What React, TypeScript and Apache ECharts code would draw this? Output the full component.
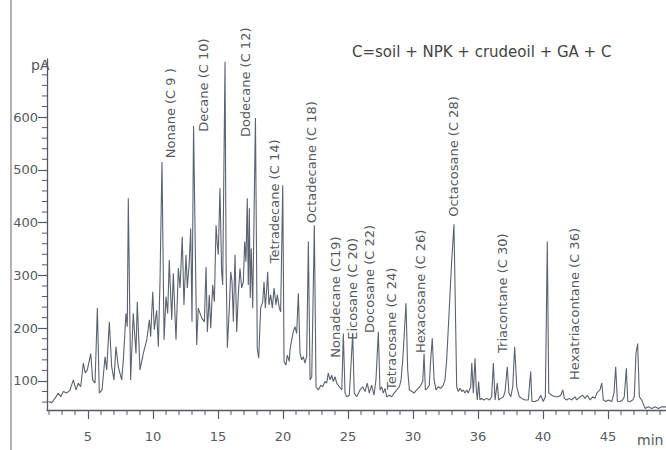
import React, { useEffect, useRef } from "react";
import * as echarts from "echarts";

// Retention time (min) and detector signal (pA)
const retentionTimes = [
  1.95, 2.21, 2.46, 2.72, 2.9, 3.1, 3.36, 3.62, 3.87, 4.08, 4.25, 4.44, 4.64, 4.79, 4.95,
  5.21, 5.36, 5.54, 5.72, 5.87, 6.08, 6.31, 6.44, 6.64, 6.82, 7.0, 7.15, 7.33, 7.59, 7.72,
  7.92, 8.02, 8.1, 8.28, 8.48, 8.69, 8.79, 9.0, 9.25, 9.52, 9.72, 9.82, 9.98, 10.1, 10.28,
  10.41, 10.54, 10.69, 10.85, 11.0, 11.13, 11.25, 11.44, 11.56, 11.77, 11.95, 12.08, 12.25,
  12.38, 12.54, 12.64, 12.79, 12.9, 13.0, 13.12, 13.36, 13.48, 13.75, 13.95, 14.08, 14.18,
  14.33, 14.44, 14.59, 14.72, 14.85, 14.95, 15.02, 15.15, 15.28, 15.36, 15.54, 15.62, 15.72,
  15.87, 15.98, 16.08, 16.18, 16.31, 16.44, 16.56, 16.69, 16.82, 16.95, 17.05, 17.15, 17.25,
  17.33, 17.41, 17.48, 17.56, 17.67, 17.88, 18.02, 18.13, 18.28, 18.44, 18.54, 18.64, 18.75,
  18.82, 18.92, 19.05, 19.18, 19.31, 19.46, 19.56, 19.72, 19.82, 19.98, 20.08, 20.23, 20.33,
  20.48, 20.54, 20.67, 20.79, 20.92, 21.05, 21.18, 21.31, 21.44, 21.56, 21.69, 21.82, 21.95,
  22.08, 22.21, 22.41, 22.54, 22.72, 22.9, 23.05, 23.23, 23.36, 23.48, 23.62, 23.75, 23.87,
  24.0, 24.13, 24.33, 24.52, 24.64, 24.77, 24.9, 25.1, 25.36, 25.48, 25.67, 25.92, 26.13,
  26.31, 26.48, 26.64, 26.82, 27.0, 27.15, 27.33, 27.46, 27.59, 27.72, 27.85, 27.98, 28.18,
  28.36, 28.54, 28.75, 28.95, 29.08, 29.21, 29.33, 29.46, 29.59, 29.72, 29.92, 30.08, 30.28,
  30.54, 30.75, 30.85, 30.95, 31.1, 31.25, 31.36, 31.48, 31.62, 31.77, 31.95, 32.13, 32.33,
  32.46, 32.59, 32.72, 32.85, 32.98, 33.15, 33.36, 33.48, 33.62, 33.75, 33.87, 34.0, 34.13,
  34.25, 34.44, 34.52, 34.64, 34.77, 34.87, 34.95, 35.05, 35.15, 35.28, 35.46, 35.67, 35.87,
  36.05, 36.18, 36.31, 36.48, 36.59, 36.75, 36.95, 37.08, 37.25, 37.38, 37.52, 37.67, 37.82,
  37.98, 38.18, 38.36, 38.62, 38.87, 39.05, 39.15, 39.38, 39.64, 39.82, 40.02, 40.18, 40.33,
  40.44, 40.67, 40.92, 41.18, 41.36, 41.52, 41.64, 41.82, 42.02, 42.21, 42.46, 42.59, 42.85,
  43.05, 43.23, 43.41, 43.62, 43.82, 44.0, 44.13, 44.38, 44.52, 44.64, 44.85, 45.02, 45.28,
  45.46, 45.59, 45.72, 45.92, 46.13, 46.25, 46.41, 46.52, 46.69, 46.9, 47.02, 47.15, 47.28,
  47.41, 47.59, 47.85, 48.1, 48.36, 48.62, 48.87, 49.15, 49.46,
];

const signalPA = [
  61, 59, 67, 77, 70, 80, 77, 83, 102, 83, 96, 89, 134, 115, 121,
  152, 102, 96, 238, 77, 83, 146, 121, 212, 127, 102, 165, 127, 102, 140,
  228, 203, 446, 102, 228, 152, 250, 121, 152, 178, 216, 184, 269, 197, 234,
  165, 291, 515, 178, 260, 228, 329, 216, 304, 178, 314, 276, 373,
  244, 339, 276, 326, 389, 212, 583, 168, 238, 219, 212, 316, 193,
  263, 200, 282, 250, 395, 358, 339, 465, 307, 282, 705, 326, 163,
  238, 307, 288, 212, 339, 193, 263, 313, 276, 288, 364, 326, 446,
  282, 427, 257, 351, 238, 598, 162, 143, 238, 250, 288, 238, 276,
  307, 244, 263, 238, 276, 244, 263, 238, 231, 471, 137, 130, 149,
  137, 159, 178, 193, 203, 190, 266, 152, 140, 146, 134, 146, 364,
  102, 108, 395, 89, 83, 92, 89, 99, 96, 115, 102, 111, 99,
  108, 96, 89, 83, 190, 77, 70, 73, 190, 77, 70, 83, 89,
  80, 96, 77, 92, 73, 102, 193, 83, 89, 77, 86, 70, 73,
  70, 77, 83, 89, 102, 140, 190, 247, 121, 83, 80, 77, 83,
  89, 99, 152, 83, 86, 92, 140, 181, 102, 83, 89, 86, 92,
  102, 140, 203, 266, 329, 397, 89, 80, 86, 80, 83, 77, 83,
  77, 89, 134, 77, 143, 83, 64, 99, 64, 67, 64, 67, 64,
  70, 134, 64, 96, 64, 67, 70, 80, 127, 77, 70, 89, 165,
  89, 70, 67, 64, 64, 118, 61, 61, 64, 73, 61, 70, 364,
  77, 73, 70, 70, 73, 83, 67, 64, 67, 64, 70, 64, 70,
  73, 67, 73, 64, 70, 67, 77, 83, 96, 64, 61, 64, 61,
  77, 127, 61, 61, 64, 70, 124, 61, 61, 64, 70, 152, 171,
  70, 64, 48, 51, 48, 51, 48, 51, 51,
];

const timeMajorTicks = [5, 10, 15, 20, 25, 30, 35, 40, 45];
const timeTickLabels = ["5", "10", "15", "20", "25", "30", "36", "40", "45"];
const timeMinorTicks = [
  2, 3, 4, 6, 7, 8, 9, 11, 12, 13, 14, 16, 17, 18, 19, 21, 22, 23, 24,
  26, 27, 28, 29, 31, 32, 33, 34, 36, 37, 38, 39, 41, 42, 43, 44, 46, 47, 48, 49,
];
const signalMajorTicks = [100, 200, 300, 400, 500, 600];
const signalMinorTicks = [
  60, 80, 120, 140, 160, 180, 220, 240, 260, 280, 320, 340, 360, 380,
  420, 440, 460, 480, 520, 540, 560, 580, 620, 640, 660, 680, 700,
];

// Compound annotations: text and the point (min, pA) where the text starts
const peakNames = [
  "Nonane (C 9 )",
  "Decane (C 10)",
  "Dodecane (C 12)",
  "Tetradecane (C 14)",
  "Octadecane (C 18)",
  "Nonadecane (C19)",
  "Eicosane (C 20)",
  "Docosane (C 22)",
  "Tetracosane (C 24)",
  "Hexacosane (C 26)",
  "Octacosane (C 28)",
  "Triacontane (C 30)",
  "Hexatriacontane (C 36)",
];
const peakLabelTimes = [11.38, 13.92, 17.15, 19.31, 22.23, 24.0, 25.31, 26.62, 28.31, 30.54, 33.08, 36.92, 42.46];
const peakLabelSignals = [522, 572, 562, 323, 399, 144, 178, 191, 83, 153, 411, 153, 102];

const titleText = "C=soil + NPK + crudeoil + GA + C";
const yUnit = "pA";
const xUnit = "min";

const TIME_MIN = 1.846;
const TIME_MAX = 49.46;
const SIG_MIN = 45;
const SIG_MAX = 710;

const FONT = "DejaVu Sans";
const INK = "#555a60";

export default function App() {
  const ref = useRef<HTMLDivElement>(null);

  useEffect(() => {
    document.body.style.margin = "0";
    const chart = echarts.init(ref.current!, undefined, { renderer: "svg" });
    const seriesData = retentionTimes.map((t, i) => [t, signalPA[i]]);
    chart.setOption({
      animation: false,
      backgroundColor: "#ffffff",
      grid: { left: 47, right: 0, top: 59, bottom: 40, containLabel: false },
      xAxis: {
        type: "value",
        min: TIME_MIN,
        max: TIME_MAX,
        position: "bottom",
        axisLine: { show: true, onZero: false, lineStyle: { color: INK, width: 1.3 } },
        splitLine: { show: false },
        axisTick: { show: true, customValues: timeMajorTicks, length: 9, lineStyle: { color: INK, width: 1.2 } },
        axisLabel: {
          show: true,
          customValues: timeMajorTicks,
          margin: 20,
          color: INK,
          fontSize: 13,
          fontFamily: FONT,
          formatter: (v: number) => {
            const idx = timeMajorTicks.indexOf(Math.round(v));
            return idx >= 0 ? timeTickLabels[idx] : String(v);
          },
        },
      },
      yAxis: {
        type: "value",
        min: SIG_MIN,
        max: SIG_MAX,
        position: "left",
        axisLine: { show: true, onZero: false, lineStyle: { color: INK, width: 1.3 } },
        splitLine: { show: false },
        axisTick: { show: true, customValues: signalMajorTicks, length: 9, lineStyle: { color: INK, width: 1.2 } },
        axisLabel: {
          show: true,
          customValues: signalMajorTicks,
          margin: 9,
          color: INK,
          fontSize: 13,
          fontFamily: FONT,
        },
      },
      series: [
        {
          type: "line",
          data: seriesData,
          showSymbol: false,
          symbol: "none",
          lineStyle: { color: "#5b6270", width: 1.1 },
          silent: true,
        },
      ],
    });

    const toPx = (t: number, v: number) =>
      chart.convertToPixel({ xAxisIndex: 0, yAxisIndex: 0 }, [t, v]) as number[];

    const minorX = timeMinorTicks.map((t) => {
      const p = toPx(t, SIG_MIN);
      return {
        type: "line",
        silent: true,
        shape: { x1: p[0], y1: p[1], x2: p[0], y2: p[1] + 5 },
        style: { stroke: INK, lineWidth: 1 },
      };
    });
    const minorY = signalMinorTicks.map((v) => {
      const p = toPx(TIME_MIN, v);
      return {
        type: "line",
        silent: true,
        shape: { x1: p[0] - 5, y1: p[1], x2: p[0], y2: p[1] },
        style: { stroke: INK, lineWidth: 1 },
      };
    });

    const labelGraphics = peakNames.map((name, i) => {
      const p = toPx(peakLabelTimes[i], peakLabelSignals[i]);
      return {
        type: "text",
        x: p[0],
        y: p[1],
        rotation: Math.PI / 2,
        silent: true,
        style: {
          text: name,
          x: 0,
          y: 0,
          align: "left",
          verticalAlign: "middle",
          fontSize: 13,
          fontFamily: FONT,
          fill: INK,
        },
      };
    });

    chart.setOption({
      graphic: [
        { type: "line", shape: { x1: 11, y1: 0, x2: 11, y2: 450 }, style: { stroke: "#9a9a9a", lineWidth: 1.5 }, silent: true },
        {
          type: "text",
          x: 352,
          y: 52,
          silent: true,
          style: { text: titleText, align: "left", verticalAlign: "middle", fontSize: 15, fontFamily: FONT, fill: "#444" },
        },
        {
          type: "text",
          x: 31,
          y: 65,
          silent: true,
          style: { text: yUnit, align: "left", verticalAlign: "middle", fontSize: 14, fontFamily: FONT, fill: INK },
        },
        {
          type: "text",
          x: 637,
          y: 440,
          silent: true,
          style: { text: xUnit, align: "left", verticalAlign: "middle", fontSize: 14, fontFamily: FONT, fill: INK },
        },
        ...minorX,
        ...minorY,
        ...labelGraphics,
      ],
    });

    return () => chart.dispose();
  }, []);

  return <div ref={ref} style={{ width: 666, height: 450 }} />;
}
